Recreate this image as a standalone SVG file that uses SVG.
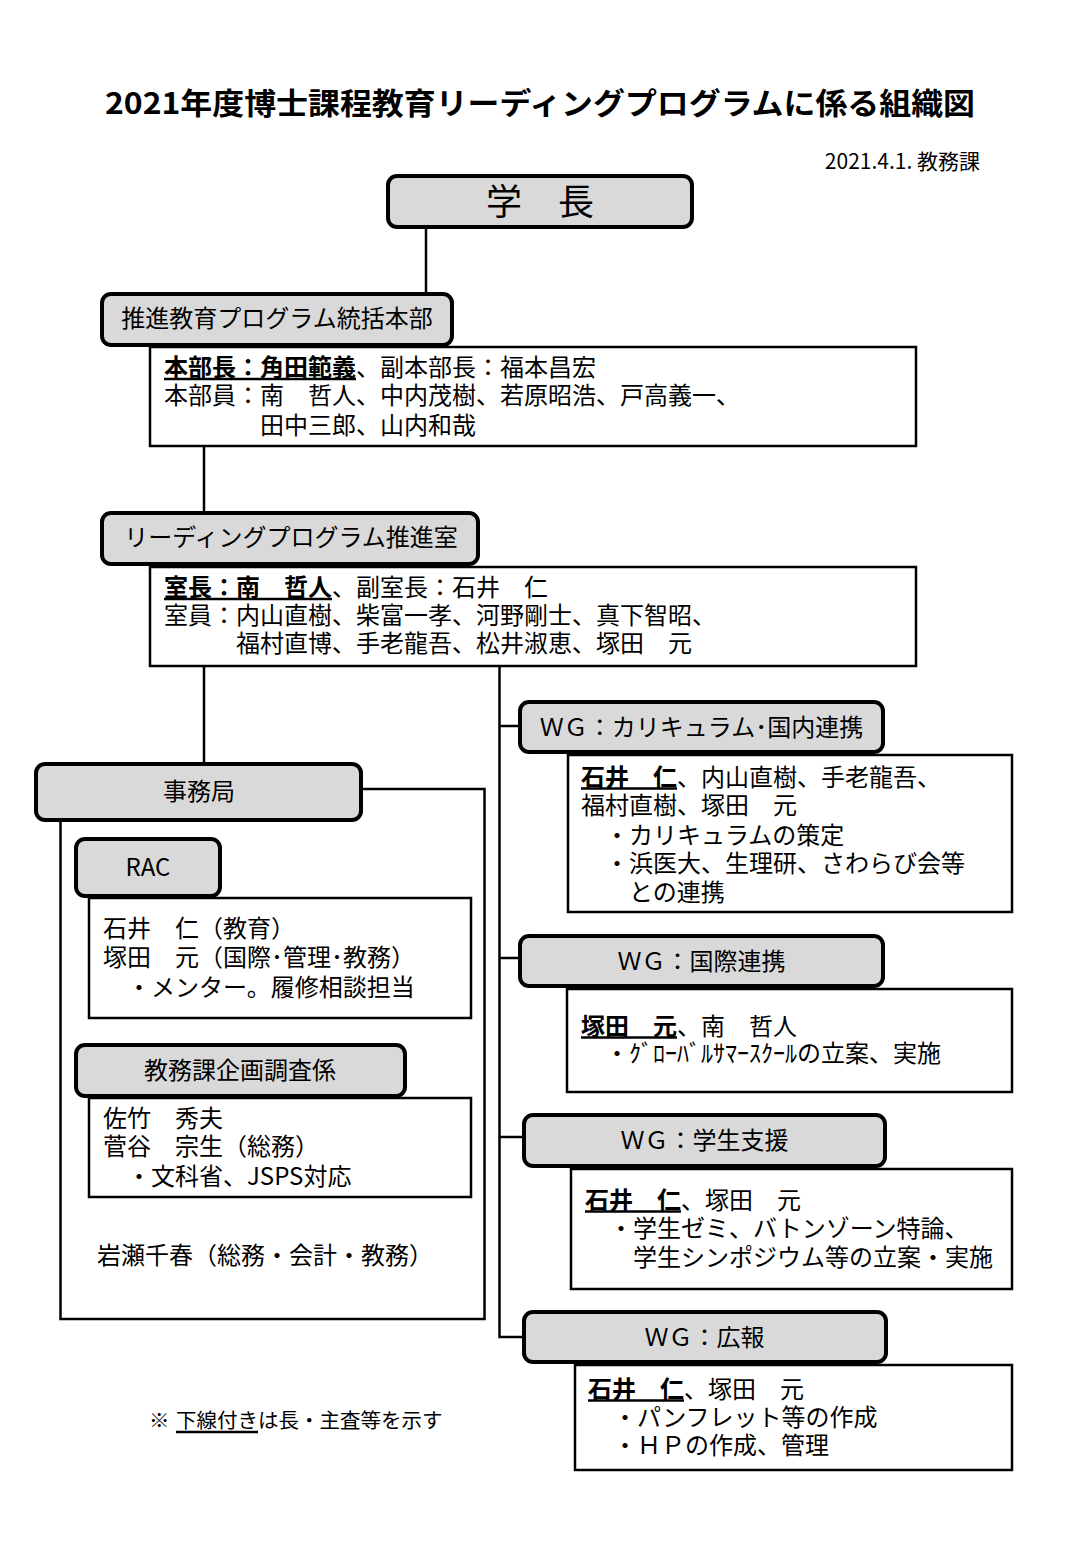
<svg xmlns="http://www.w3.org/2000/svg" width="1080" height="1560" viewBox="0 0 1080 1560">
<style>
text{font-family:"Noto Sans CJK JP","Noto Sans CJK SC",sans-serif;fill:#000;}
.lbl{fill:#d9d9d9;stroke:#000;stroke-width:4;}
.info{fill:#fff;stroke:#000;stroke-width:2.5;}
.t{font-size:24px;}
.c{font-size:24px;text-anchor:middle;}
.b{font-weight:bold;}
.ul{stroke:#000;stroke-width:2.5;}
.conn{fill:none;stroke:#000;stroke-width:2.5;}
</style>
<rect x="0" y="0" width="1080" height="1560" fill="#fff"/>

<text x="540" y="114" font-size="30" font-weight="bold" text-anchor="middle" textLength="870" lengthAdjust="spacingAndGlyphs">2021年度博士課程教育リーディングプログラムに係る組織図</text>
<text x="980" y="169" font-size="21" text-anchor="end">2021.4.1. 教務課</text>

<g id="connectors">
<path class="conn" d="M426 229 V293"/>
<path class="conn" d="M204 447 V512"/>
<path class="conn" d="M204 667 V763"/>
<path class="conn" d="M499.5 667 V1337 H523"/>
<path class="conn" d="M499.5 726 H519"/>
<path class="conn" d="M499.5 958 H519"/>
<path class="conn" d="M499.5 1137 H523"/>
</g>

<g id="gakucho">
<rect class="lbl" x="388" y="176" width="304" height="51" rx="9"/>
<text x="540" y="215" font-size="36" text-anchor="middle">学　長</text>
</g>

<g id="honbu">
<rect class="info" x="150" y="347" width="766" height="99"/>
<rect class="lbl" x="102" y="294" width="350" height="51" rx="9"/>
<text class="c" x="277" y="327">推進教育プログラム統括本部</text>
<text class="t" x="164" y="376"><tspan class="b">本部長：角田範義</tspan>、副本部長：福本昌宏<tspan x="164" y="404">本部員：南　哲人、中内茂樹、若原昭浩、戸高義一、</tspan><tspan x="260" y="434">田中三郎、山内和哉</tspan></text>
<line class="ul" x1="164" y1="379" x2="356" y2="379"/>
</g>

<g id="suishinshitsu">
<rect class="info" x="150" y="567" width="766" height="99"/>
<rect class="lbl" x="102" y="513" width="376" height="51" rx="9"/>
<text class="c" x="291" y="546">リーディングプログラム推進室</text>
<text class="t" x="164" y="596"><tspan class="b">室長：南　哲人</tspan>、副室長：石井　仁<tspan x="164" y="624">室員：内山直樹、柴富一孝、河野剛士、真下智昭、</tspan><tspan x="236" y="652">福村直博、手老龍吾、松井淑恵、塚田　元</tspan></text>
<line class="ul" x1="164" y1="599" x2="332" y2="599"/>
</g>

<g id="jimukyoku">
<rect class="info" x="60.5" y="789" width="424" height="530"/>
<rect class="lbl" x="36" y="764" width="325" height="56" rx="9"/>
<text class="c" x="199" y="800">事務局</text>
</g>

<g id="rac">
<rect class="info" x="89" y="898" width="382" height="120"/>
<rect class="lbl" x="76" y="839" width="144" height="57" rx="9"/>
<text class="c" x="148" y="876">RAC</text>
<text class="t" x="103" y="937">石井　仁（教育）<tspan x="103" y="966">塚田　元（国際･管理･教務）</tspan><tspan x="127" y="996">・メンター。履修相談担当</tspan></text>
</g>

<g id="kikaku">
<rect class="info" x="89" y="1098" width="382" height="99"/>
<rect class="lbl" x="76" y="1045" width="329" height="51" rx="9"/>
<text class="c" x="240" y="1079">教務課企画調査係</text>
<text class="t" x="103" y="1127">佐竹　秀夫<tspan x="103" y="1155">菅谷　宗生（総務）</tspan><tspan x="127" y="1185">・文科省、JSPS対応</tspan></text>
</g>

<g id="iwase">
<text class="t" x="97" y="1264">岩瀬千春（総務・会計・教務）</text>
</g>

<g id="wg1">
<rect class="info" x="568" y="755" width="444" height="157"/>
<rect class="lbl" x="520" y="702" width="363" height="50" rx="9"/>
<text class="c" x="701.5" y="736">ＷＧ：カリキュラム･国内連携</text>
<text class="t" x="581" y="786"><tspan class="b">石井　仁</tspan>、内山直樹、手老龍吾、<tspan x="581" y="814">福村直樹、塚田　元</tspan><tspan x="605" y="844">・カリキュラムの策定</tspan><tspan x="605" y="872">・浜医大、生理研、さわらび会等</tspan><tspan x="629" y="901">との連携</tspan></text>
<line class="ul" x1="581" y1="788.5" x2="677" y2="788.5"/>
</g>

<g id="wg2">
<rect class="info" x="567" y="989" width="445" height="103"/>
<rect class="lbl" x="520" y="936" width="363" height="50" rx="9"/>
<text class="c" x="701.5" y="970">ＷＧ：国際連携</text>
<text class="t" x="581" y="1035"><tspan class="b">塚田　元</tspan>、南　哲人<tspan x="605" y="1062">・ｸﾞﾛｰﾊﾞﾙｻﾏｰｽｸｰﾙの立案、実施</tspan></text>
<line class="ul" x1="581" y1="1037.5" x2="677" y2="1037.5"/>
</g>

<g id="wg3">
<rect class="info" x="571" y="1169" width="441" height="120"/>
<rect class="lbl" x="524" y="1115" width="361" height="51" rx="9"/>
<text class="c" x="704.5" y="1149">ＷＧ：学生支援</text>
<text class="t" x="585" y="1209"><tspan class="b">石井　仁</tspan>、塚田　元<tspan x="609" y="1237">・学生ゼミ、バトンゾーン特論、</tspan><tspan x="633" y="1266">学生シンポジウム等の立案・実施</tspan></text>
<line class="ul" x1="585" y1="1211.5" x2="681" y2="1211.5"/>
</g>

<g id="wg4">
<rect class="info" x="575" y="1365" width="437" height="105"/>
<rect class="lbl" x="524" y="1312" width="362" height="50" rx="9"/>
<text class="c" x="704.5" y="1346">ＷＧ：広報</text>
<text class="t" x="588" y="1398"><tspan class="b">石井　仁</tspan>、塚田　元<tspan x="613" y="1426">・パンフレット等の作成</tspan><tspan x="613" y="1454">・ＨＰの作成、管理</tspan></text>
<line class="ul" x1="588" y1="1400.5" x2="684" y2="1400.5"/>
</g>

<g id="note">
<text x="149" y="1428" font-size="20.5">※<tspan x="176">下線付きは長・主査等を示す</tspan></text>
<line class="ul" x1="176" y1="1432" x2="258" y2="1432"/>
</g>
</svg>
